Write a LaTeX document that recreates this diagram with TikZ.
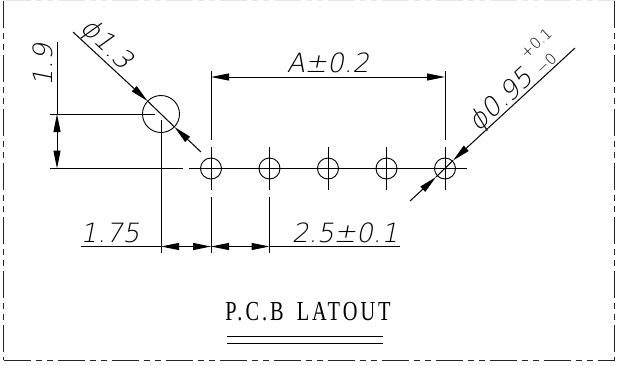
\documentclass[tikz,border=0pt]{standalone}
\usepackage{fontspec}
\usetikzlibrary{arrows.meta}
\newfontfamily\cadfont[FakeSlant=0.2]{DejaVu Sans ExtraLight}
\newfontfamily\cadup{DejaVu Sans ExtraLight}
\newfontfamily\titlefont[FakeStretch=0.74,LetterSpace=11,WordSpace=1.6]{Liberation Serif}
\tikzset{
  dimline/.style={line width=1pt,black},
  tipped/.style={dimline,-{Triangle[length=18pt,width=7pt]}},
  bighole/.style={circle,draw,line width=0.9pt,inner sep=0pt,minimum size=37pt},
  hole/.style={circle,draw,line width=0.9pt,inner sep=0pt,minimum size=21pt},
  cadtext/.style={inner sep=0pt,font=\cadfont\fontsize{26.5}{26.5}\selectfont},
  cadsmall/.style={inner sep=0pt,font=\cadup\fontsize{15}{15}\selectfont},
  titletext/.style={inner sep=0pt,font=\titlefont\fontsize{27.5}{27.5}\selectfont},
  border/.style={line width=1pt,black!85,dash pattern=on 27pt off 5pt on 6.5pt off 4.5pt on 6pt off 5pt}
}
\begin{document}
\begin{tikzpicture}[x=1pt,y=-1pt]
\useasboundingbox (0,0) rectangle (619,365);
\fill[white] (0,0) rectangle (619,365);
% frame
\coordinate (fa) at (3.5,0.5);
\coordinate (fb) at (3.5,360);
\coordinate (fc) at (614.5,360);
\coordinate (fd) at (614.5,0.5);
\draw[border] (fa) -- (fb);
\draw[border] (fb) -- (fc);
\draw[border] (fd) -- (fc);
\draw[border,black!10] (fa) -- (fd);
% holes
\node[bighole] (B) at (161,114) {};
\node[hole] (h1) at (211,168.5) {};
\node[hole] (h2) at (269.5,168.5) {};
\node[hole] (h3) at (328,168.5) {};
\node[hole] (h4) at (386.5,168.5) {};
\node[hole] (h5) at (445,168.5) {};
% centre line
\coordinate (cl1) at (50,168.5);
\coordinate (cl2) at (183,168.5);
\coordinate (cl3) at (189,168.5);
\coordinate (cl4) at (467,168.5);
\draw[dimline] (cl1) -- (cl2);
\draw[dimline] (cl3) -- (cl4);
% 1.9 dimension
\coordinate (e19a) at (57,42);
\coordinate (e19b) at (57,114);
\coordinate (e19c) at (57,168.5);
\coordinate (e19d) at (50,114);
\coordinate (e19e) at (155,114);
\coordinate (e19m) at (57,141);
\draw[dimline] (e19a) -- (e19b);
\draw[dimline] (e19d) -- (e19e);
\draw[tipped] (e19m) -- (e19b);
\draw[tipped] (e19m) -- (e19c);
\node[cadtext,rotate=90] (t19) at (43,65) {1.9};
% vertical extension lines
\coordinate (v0a) at (161,120);
\coordinate (v0b) at (161,253);
\draw[dimline] (v0a) -- (v0b);
\foreach \n/\x/\ya/\yb in {1/211/71/140,5/445/71/140}{
  \coordinate (u\n a) at (\x,\ya);
  \coordinate (u\n b) at (\x,\yb);
  \draw[dimline] (u\n a) -- (u\n b);
}
\foreach \n/\x in {1/211,2/269.5,3/328,4/386.5,5/445}{
  \coordinate (w\n a) at (\x,147);
  \coordinate (w\n b) at (\x,190);
  \draw[dimline] (w\n a) -- (w\n b);
}
\foreach \n/\x in {1/211,2/269.5}{
  \coordinate (z\n a) at (\x,197);
  \coordinate (z\n b) at (\x,253);
  \draw[dimline] (z\n a) -- (z\n b);
}
% A dimension
\coordinate (am) at (328,77);
\coordinate (al) at (211,77);
\coordinate (ar) at (445,77);
\draw[tipped] (am) -- (al);
\draw[tipped] (am) -- (ar);
\node[cadtext] (tA) at (328,63) {A±0.2};
% bottom dimension
\coordinate (b0) at (81,246.5);
\coordinate (b1) at (161,246.5);
\coordinate (b2) at (211,246.5);
\coordinate (b3) at (269.5,246.5);
\coordinate (b4) at (400,246.5);
\coordinate (bm1) at (186,246.5);
\coordinate (bm2) at (240,246.5);
\draw[dimline] (b0) -- (b1);
\draw[dimline] (b3) -- (b4);
\draw[tipped] (bm1) -- (b1);
\draw[tipped] (bm1) -- (b2);
\draw[tipped] (bm2) -- (b2);
\draw[tipped] (bm2) -- (b3);
\node[cadtext] (t175) at (110,233) {1.75};
\node[cadtext] (t25) at (345,233) {2.5±0.1};
% phi 1.3 leader
\coordinate (d1) at (73,32);
\coordinate (d2) at (147.5,101);
\coordinate (d3) at (174.5,127);
\coordinate (d4) at (201,152);
\draw[tipped] (d1) -- (d2);
\draw[tipped] (d4) -- (d3);
\draw[dimline] (d2) -- (d3);
\node[cadtext,rotate=-43] (t13) at (106,45) {ϕ1.3};
% phi 0.95 leader
\coordinate (g1) at (575,48);
\coordinate (g2) at (453,160.5);
\coordinate (g3) at (436,177);
\coordinate (g4) at (410,201);
\draw[tipped] (g1) -- (g2);
\draw[tipped] (g4) -- (g3);
\draw[dimline] (g2) -- (g3);
\node[cadtext,rotate=43] (t95) at (502,101) {ϕ0.95};
\node[cadsmall,rotate=43] (tp) at (536,43) {+0.1};
\node[cadsmall,rotate=43] (tm) at (546,64) {−0};
% title
\node[titletext] (title) at (308,312) {P.C.B LATOUT};
\coordinate (u1a) at (227,336.5);
\coordinate (u1b) at (383,336.5);
\coordinate (u2a) at (227,343.5);
\coordinate (u2b) at (383,343.5);
\draw[dimline] (u1a) -- (u1b);
\draw[dimline] (u2a) -- (u2b);
\end{tikzpicture}
\end{document}
